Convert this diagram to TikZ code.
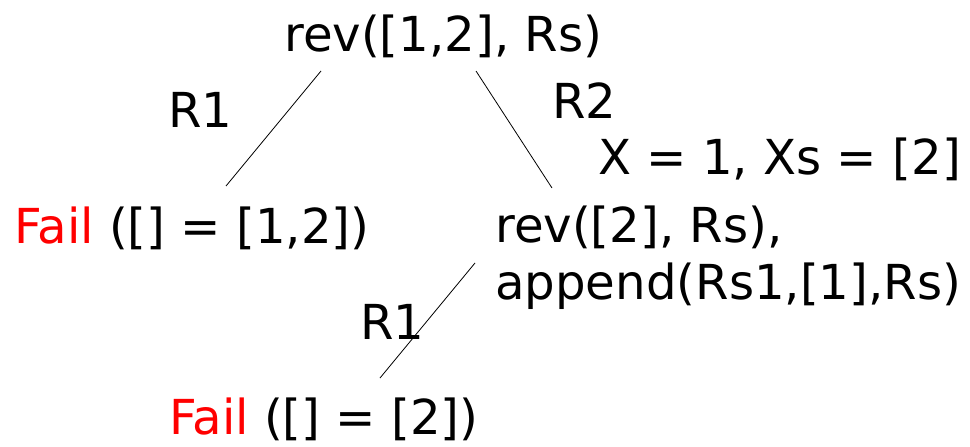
\documentclass[tikz,border=0pt]{standalone}
\usepackage{fontspec}
\setmainfont{DejaVu Sans}
\begin{document}
\begin{tikzpicture}[x=1pt,y=-1pt,
  lbl/.style={inner sep=0pt, anchor=base west, font=\fontsize{48.2}{57}\selectfont},
  edge/.style={line width=0.8pt, black}]
\useasboundingbox (0,0) rectangle (970,447);
\node[lbl] (root) at (284,51) {rev([1,2], Rs)};
\node[lbl] (r1a) at (168,127) {R1};
\node[lbl] (r2) at (552,118) {R2};
\node[lbl] (sub) at (598,174) {X = 1, Xs = [2]};
\node[lbl] (fail1) at (14,243) {\textcolor{red}{Fail} ([] = [1,2])};
\node[lbl, align=left, anchor=north west] (goal) at (495,206) {rev([2], Rs),\\append(Rs1,[1],Rs)};
\node[lbl] (r1b) at (360,339) {R1};
\node[lbl] (fail2) at (169,434) {\textcolor{red}{Fail} ([] = [2])};
\coordinate (a1) at (321,71); \coordinate (a2) at (226,186);
\coordinate (b1) at (476,71); \coordinate (b2) at (552,188);
\coordinate (c1) at (475,263); \coordinate (c2) at (380,378);
\draw[edge] (a1) -- (a2);
\draw[edge] (b1) -- (b2);
\draw[edge] (c1) -- (c2);
\end{tikzpicture}
\end{document}
